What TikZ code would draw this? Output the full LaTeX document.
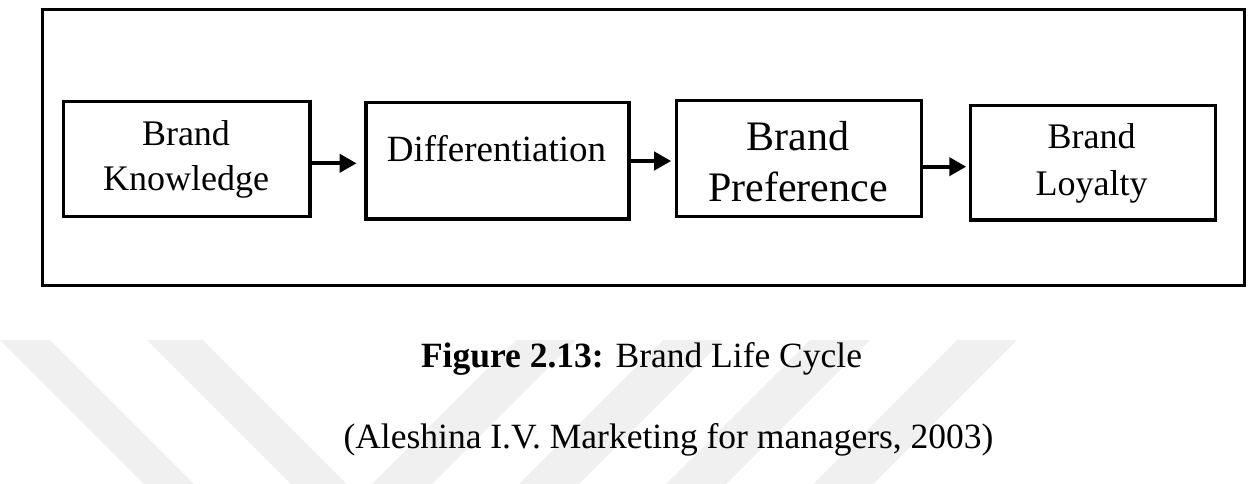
\documentclass[tikz,border=0pt]{standalone}
\usepackage{fontspec}
\setmainfont{Liberation Serif}
\usetikzlibrary{arrows.meta}
\begin{document}
\begin{tikzpicture}[x=1pt,y=-1pt,
  box/.style={draw, line width=3.5pt, rectangle, inner sep=0pt},
  framebox/.style={draw, line width=3pt, rectangle, inner sep=0pt},
  lbl/.style={anchor=base, inner sep=0pt},
  arr/.style={line width=4pt, -{Triangle[length=17pt,width=18pt]}},
  band/.style={fill=black!6, draw=none}]
\useasboundingbox (0,0) rectangle (1249,484);
% watermark bands
\fill[band] (0,340) -- (50,340) -- (194,484) -- (144,484) -- cycle;
\fill[band] (147,340) -- (203,340) -- (347,484) -- (291,484) -- cycle;
\foreach \t in {516,663,810,957}{
  \fill[band] (\t,340) -- (\t+60,340) -- (\t-84,484) -- (\t-144,484) -- cycle;
}
% frame
\node[framebox, minimum width=1202pt, minimum height=276.4pt] (frame) at (643.7,147.5) {};
% boxes
\node[box, minimum width=246.7pt, minimum height=115pt] (b1) at (186.7,159.2) {};
\node[box, minimum width=263.3pt, minimum height=116.3pt] (b2) at (497.4,160.9) {};
\node[box, minimum width=245.3pt, minimum height=116pt] (b3) at (799,158.7) {};
\node[box, minimum width=245pt, minimum height=114.7pt] (b4) at (1093.2,162.7) {};
% texts
\node[lbl, font=\fontsize{36}{40}\selectfont] (t1a) at (186,145) {Brand};
\node[lbl, font=\fontsize{36}{40}\selectfont] (t1b) at (186,190) {Knowledge};
\node[lbl, font=\fontsize{37}{40}\selectfont] (t2) at (496.5,161.7) {Differentiation};
\node[lbl, font=\fontsize{42}{46}\selectfont] (t3a) at (798,150) {Brand};
\node[lbl, font=\fontsize{42}{46}\selectfont] (t3b) at (798,201.7) {Preference};
\node[lbl, font=\fontsize{36}{40}\selectfont] (t4a) at (1091.5,148.3) {Brand};
\node[lbl, font=\fontsize{36}{40}\selectfont] (t4b) at (1091.5,195) {Loyalty};
% arrows
\path (b1.east) ++(0,4.1) coordinate (s1);
\path (b2.east) ++(0,0.1) coordinate (s2);
\path (b3.east) ++(0,8) coordinate (s3);
\draw[arr, shorten >=7.4pt] (s1) -- (s1 -| b2.west);
\draw[arr, shorten >=3.4pt] (s2) -- (s2 -| b3.west);
\draw[arr, shorten >=2.7pt] (s3) -- (s3 -| b4.west);
% captions
\node[lbl, font=\fontsize{35.5}{40}\selectfont] (cap) at (641.5,367.3) {\textbf{Figure 2.13:} Brand Life Cycle};
\node[lbl, font=\fontsize{35.5}{40}\selectfont] (src) at (668.5,448) {(Aleshina I.V. Marketing for managers, 2003)};
\end{tikzpicture}
\end{document}
